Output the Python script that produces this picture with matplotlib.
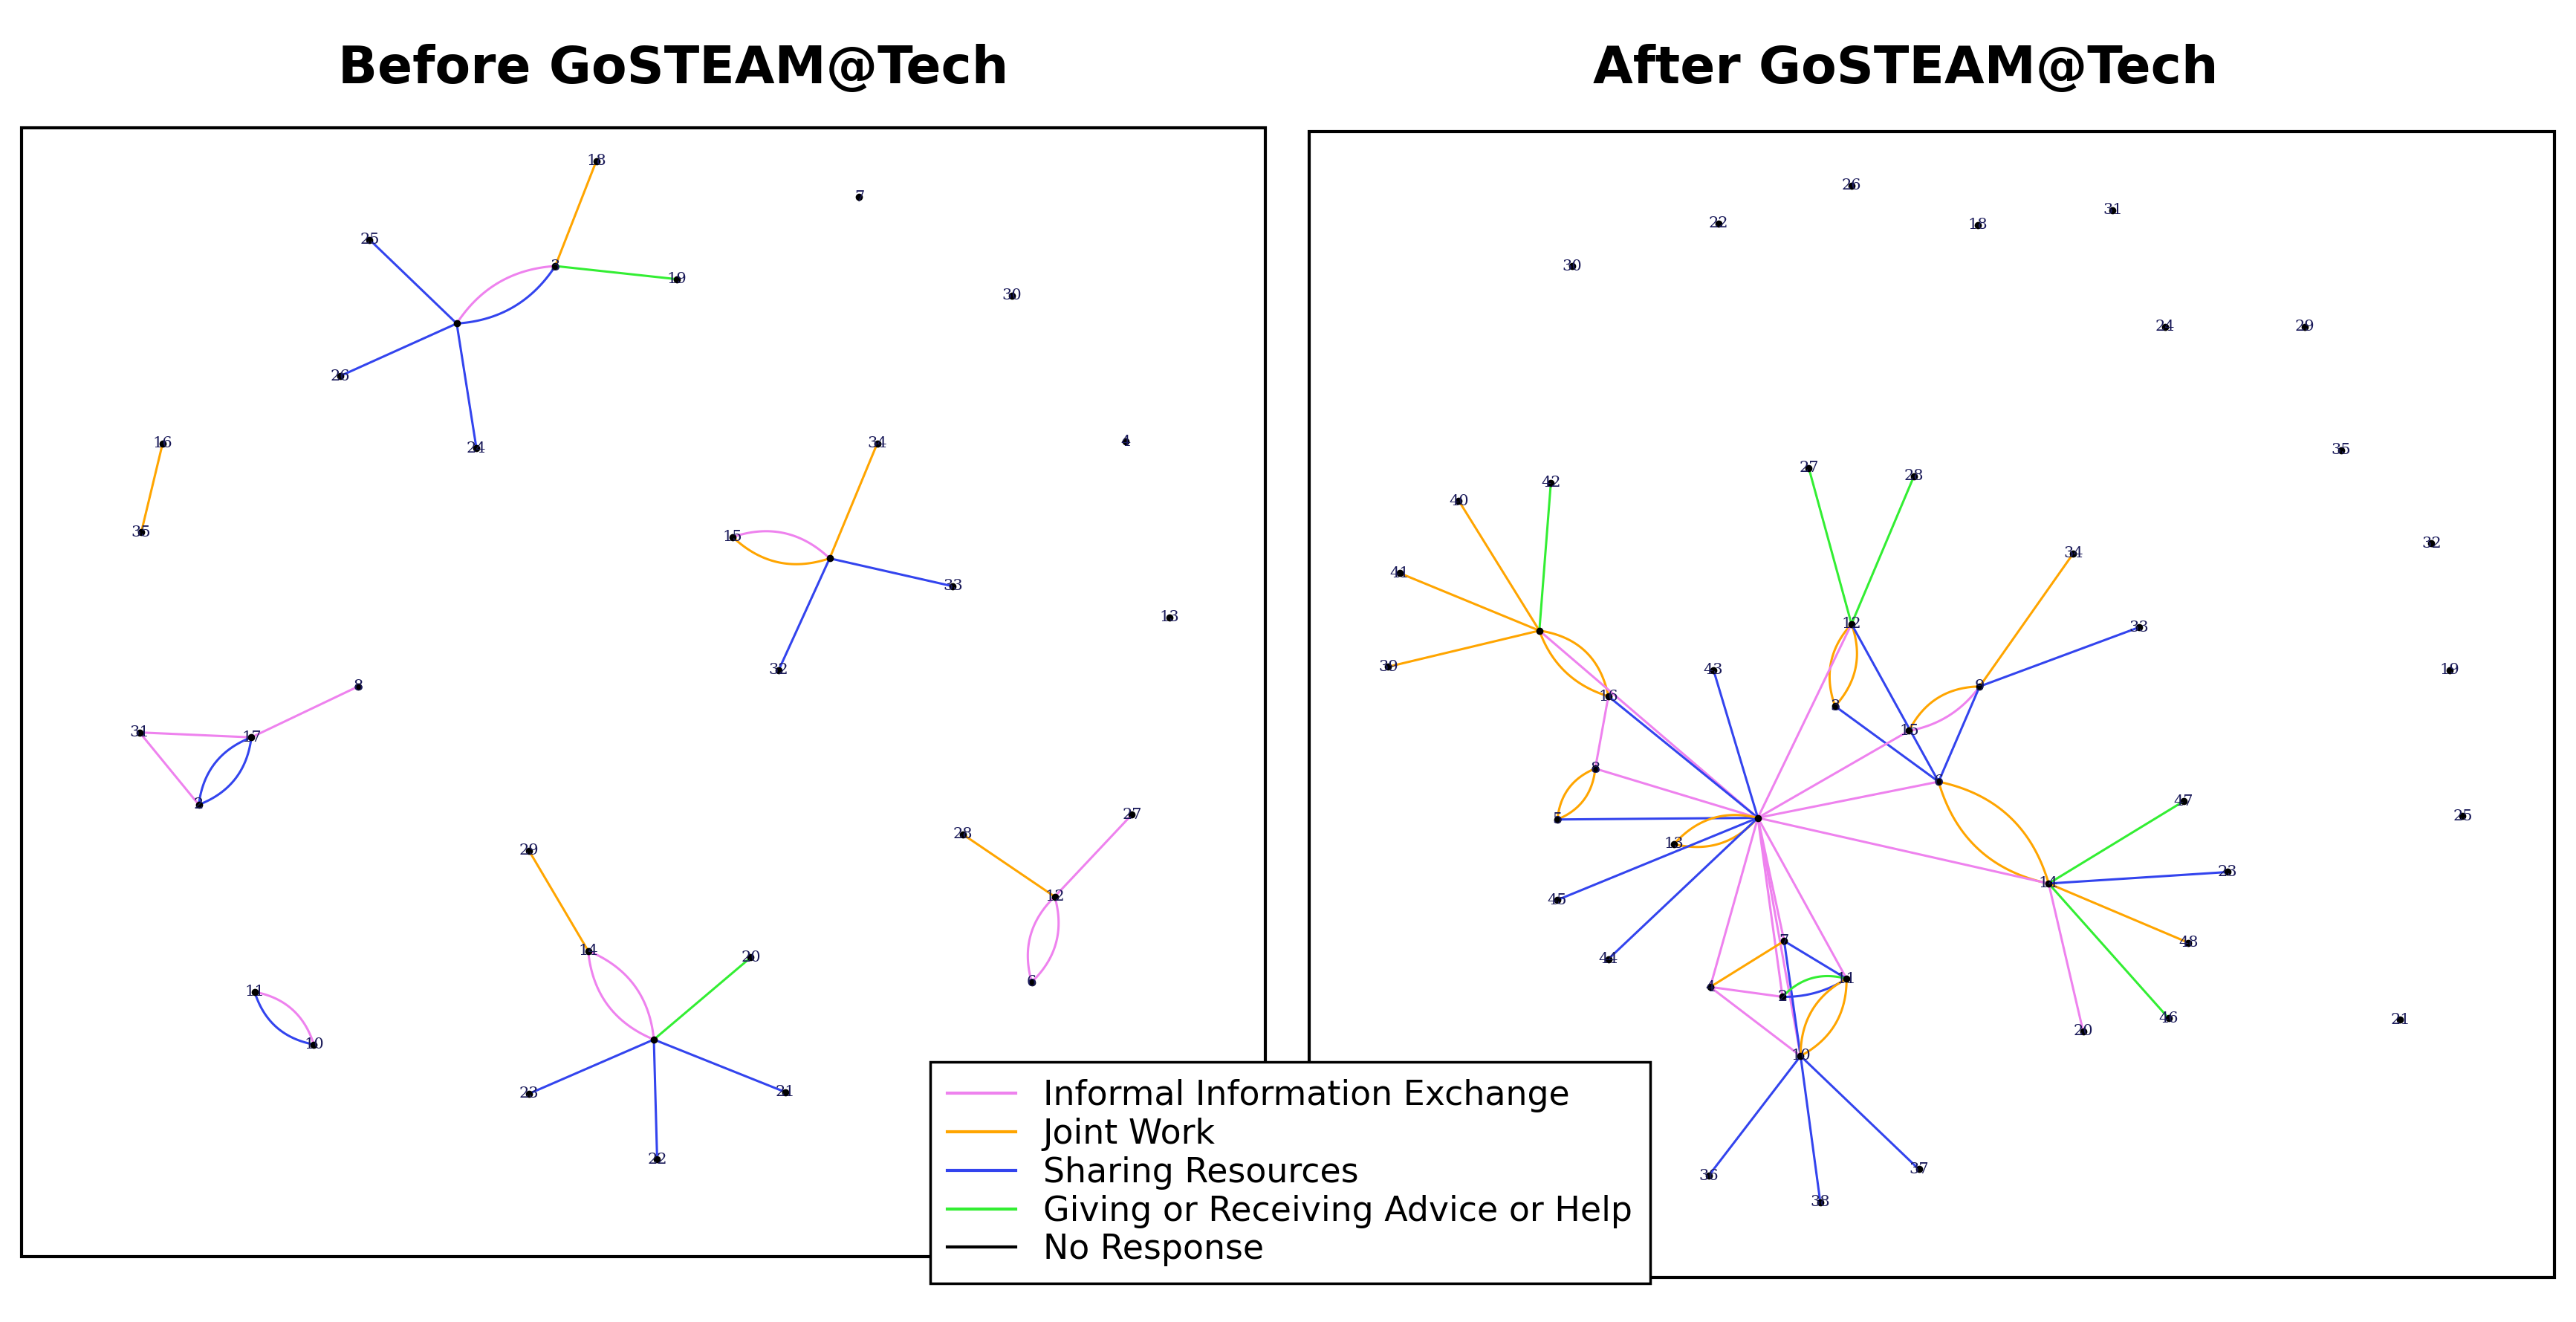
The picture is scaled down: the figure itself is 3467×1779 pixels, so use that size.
import numpy as np
import matplotlib
matplotlib.use("Agg")
from matplotlib import pyplot as plt
from matplotlib.lines import Line2D
from matplotlib.patches import Rectangle

# colours of the tie types
PINK = "#ee82ee"
ORANGE = "#ffa500"
BLUE = "#3344ee"
GREEN = "#33ee33"

# node layout (picture coordinates) - before
before_nodes = {
    "18": (363, 98), "7": (523, 120), "3": (338, 162), "19": (412, 170),
    "25": (225, 146), "30": (616, 180), "A": (278, 197), "26": (207, 229),
    "24": (290, 273), "16": (99, 270), "35": (86, 324), "34": (534, 270),
    "4": (685, 269), "15": (446, 327), "B": (505, 340), "33": (580, 357),
    "32": (474, 408), "13": (712, 376), "8": (218, 418), "31": (85, 446),
    "17": (153, 449), "2": (121, 490), "29": (322, 518), "28": (586, 508),
    "27": (689, 496), "12": (642, 546), "6": (628, 598), "14": (358, 579),
    "20": (457, 583), "11": (155, 604), "10": (191, 636), "C": (398, 633),
    "23": (322, 666), "21": (478, 665), "22": (400, 706),
}
# (from, to, colour, bend)
before_edges = [
    ("A", "25", BLUE, 0), ("A", "26", BLUE, 0), ("A", "24", BLUE, 0),
    ("A", "3", PINK, -0.25), ("A", "3", BLUE, 0.25),
    ("3", "18", ORANGE, 0), ("3", "19", GREEN, 0), ("16", "35", ORANGE, 0),
    ("B", "34", ORANGE, 0), ("B", "15", PINK, 0.3), ("B", "15", ORANGE, -0.3),
    ("B", "33", BLUE, 0), ("B", "32", BLUE, 0),
    ("8", "17", PINK, 0), ("31", "17", PINK, 0), ("31", "2", PINK, 0),
    ("2", "17", BLUE, 0.3), ("2", "17", BLUE, -0.3),
    ("28", "12", ORANGE, 0), ("27", "12", PINK, 0),
    ("12", "6", PINK, 0.3), ("12", "6", PINK, -0.3),
    ("29", "14", ORANGE, 0), ("14", "C", PINK, 0.3), ("14", "C", PINK, -0.3),
    ("C", "20", GREEN, 0), ("C", "23", BLUE, 0), ("C", "21", BLUE, 0), ("C", "22", BLUE, 0),
    ("11", "10", PINK, -0.3), ("11", "10", BLUE, 0.3),
]

# node layout - after
after_nodes = {
    "30": (957, 162), "22": (1046, 136), "26": (1127, 113), "18": (1204, 137),
    "31": (1286, 128), "24": (1318, 199), "29": (1403, 199), "35": (1425, 274),
    "32": (1480, 331), "19": (1491, 408), "25": (1499, 497), "21": (1461, 621),
    "27": (1101, 285), "28": (1165, 290), "42": (944, 294), "40": (888, 305),
    "41": (852, 349), "39": (845, 406), "X": (937, 384), "34": (1262, 337),
    "33": (1302, 382), "12": (1127, 380), "43": (1043, 408), "16": (979, 424),
    "3": (1117, 430), "9": (1205, 418), "15": (1162, 445), "6": (1180, 476),
    "8": (971, 468), "5": (948, 499), "C": (1070, 498), "13": (1019, 514),
    "47": (1329, 488), "23": (1356, 531), "14": (1247, 538), "45": (948, 548),
    "44": (979, 584), "48": (1332, 574), "7": (1086, 573), "4": (1041, 601),
    "2": (1085, 607), "11": (1124, 596), "10": (1096, 643), "20": (1268, 628),
    "46": (1320, 620), "36": (1040, 716), "38": (1108, 732), "37": (1168, 712),
}
after_edges = [
    ("X", "40", ORANGE, 0), ("X", "42", GREEN, 0), ("X", "41", ORANGE, 0), ("X", "39", ORANGE, 0),
    ("X", "16", ORANGE, -0.35), ("X", "16", ORANGE, 0.25), ("X", "C", PINK, 0),
    ("16", "C", BLUE, 0), ("16", "8", PINK, 0),
    ("8", "5", ORANGE, 0.3), ("8", "5", ORANGE, -0.3), ("8", "C", PINK, 0),
    ("5", "C", BLUE, 0), ("13", "C", ORANGE, 0.3), ("13", "C", ORANGE, -0.3),
    ("45", "C", BLUE, 0), ("44", "C", BLUE, 0), ("43", "C", BLUE, 0),
    ("12", "27", GREEN, 0), ("12", "28", GREEN, 0),
    ("12", "3", ORANGE, 0.3), ("12", "3", ORANGE, -0.3), ("12", "C", PINK, 0),
    ("12", "6", BLUE, 0), ("3", "6", BLUE, 0),
    ("9", "34", ORANGE, 0), ("9", "33", BLUE, 0),
    ("9", "15", ORANGE, 0.3), ("9", "15", PINK, -0.2), ("9", "6", BLUE, 0),
    ("15", "C", PINK, 0), ("6", "C", PINK, 0),
    ("6", "14", ORANGE, 0.3), ("6", "14", ORANGE, -0.3), ("C", "14", PINK, 0),
    ("14", "47", GREEN, 0), ("14", "23", BLUE, 0), ("14", "48", ORANGE, 0),
    ("14", "46", GREEN, 0), ("14", "20", PINK, 0),
    ("C", "4", PINK, 0), ("C", "7", PINK, 0), ("C", "10", PINK, 0),
    ("C", "2", PINK, 0), ("C", "11", PINK, 0),
    ("7", "4", ORANGE, 0), ("7", "11", BLUE, 0), ("7", "10", BLUE, 0),
    ("4", "2", PINK, 0), ("4", "10", PINK, 0),
    ("2", "11", GREEN, -0.3), ("2", "11", BLUE, 0.15),
    ("11", "10", ORANGE, 0.3), ("11", "10", ORANGE, -0.3),
    ("10", "36", BLUE, 0), ("10", "38", BLUE, 0), ("10", "37", BLUE, 0),
]

legend_labels = ["Informal Information Exchange", "Joint Work", "Sharing Resources",
                 "Giving or Receiving Advice or Help", "No Response"]
legend_colors = [PINK, ORANGE, BLUE, GREEN, "black"]


def curve(p, q, bend, n=40):
    p = np.array(p, float)
    q = np.array(q, float)
    mid = (p + q) / 2
    d = q - p
    normal = np.array([-d[1], d[0]])
    ctrl = mid + normal * bend
    t = np.linspace(0, 1, n)[:, None]
    return (1 - t) ** 2 * p + 2 * (1 - t) * t * ctrl + t ** 2 * q


def draw_net(ax, nodes, edges):
    for a, b, col, bend in edges:
        pts = curve(nodes[a], nodes[b], bend)
        ax.plot(pts[:, 0], pts[:, 1], color=col, lw=2.2, zorder=2)
    for name, (x, y) in nodes.items():
        ax.plot(x, y, "o", color="black", ms=6, zorder=3)
        if name not in ("A", "B", "C", "X"):
            ax.text(x, y, name, fontsize=15, family="DejaVu Serif", color="#1a1a5a",
                    ha="center", va="center", zorder=4)


fig = plt.figure(figsize=(34.67, 17.79), dpi=100)
ax = fig.add_axes([0, 0, 1, 1])
ax.set_xlim(0, 1568)
ax.set_ylim(805, 0)
ax.axis("off")

ax.add_patch(Rectangle((13, 78), 757, 687, fill=False, lw=3, ec="black"))
ax.add_patch(Rectangle((797, 80), 758, 698, fill=False, lw=3, ec="black"))

draw_net(ax, before_nodes, before_edges)
draw_net(ax, after_nodes, after_edges)

ax.text(410, 42, "Before GoSTEAM@Tech", fontsize=50, fontweight="bold", ha="center", va="center")
ax.text(1160, 42, "After GoSTEAM@Tech", fontsize=50, fontweight="bold", ha="center", va="center")

handles = [Line2D([], [], color=c, lw=3) for c in legend_colors]
leg = ax.legend(handles, legend_labels, loc="lower left",
                bbox_to_anchor=(556 / 1568, 13 / 805, 459 / 1568, 170 / 805),
                mode="expand", fontsize=33, frameon=True, fancybox=False,
                handlelength=2.0, borderpad=0.5, labelspacing=0.15, framealpha=1)
leg.get_frame().set_edgecolor("black")
leg.get_frame().set_linewidth(2.5)
leg.set_zorder(10)

fig.savefig("out.png", dpi=100)
